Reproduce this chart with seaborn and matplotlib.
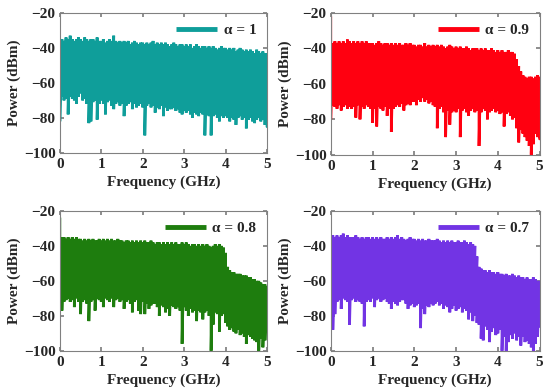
import numpy as np
import pandas as pd
import seaborn as sns
import matplotlib.pyplot as plt

# frequency grid, 0 to 5 GHz in 0.05 GHz steps
freq = np.round(np.arange(101) * 0.05, 2)

# upper and lower edge of each spectrum (dBm)
top_a1 = [-35, -35, -36, -34, -35, -33, -35, -36, -35, -34,
          -35, -36, -34, -35, -36, -35, -35, -36, -34, -36,
          -36, -35, -37, -36, -35, -36, -33, -36, -37, -36,
          -37, -36, -37, -36, -38, -37, -36, -37, -38, -37,
          -37, -38, -37, -38, -37, -36, -38, -37, -38, -37,
          -38, -37, -38, -39, -38, -37, -38, -39, -38, -38,
          -39, -38, -39, -38, -40, -39, -38, -39, -40, -39,
          -39, -40, -39, -40, -39, -40, -41, -40, -39, -40,
          -40, -41, -40, -41, -40, -42, -41, -40, -41, -42,
          -41, -42, -41, -42, -43, -41, -42, -43, -42, -43,
          -43]
bot_a1 = [-82, -68, -70, -69, -78, -68, -69, -70, -72, -68,
          -66, -70, -69, -72, -83, -82, -71, -70, -81, -72,
          -70, -72, -78, -71, -70, -73, -75, -72, -71, -73,
          -72, -79, -73, -72, -71, -75, -72, -74, -73, -72,
          -74, -90, -73, -72, -74, -73, -77, -74, -75, -73,
          -79, -74, -76, -75, -75, -74, -76, -75, -77, -78,
          -76, -77, -76, -78, -80, -77, -78, -79, -77, -78,
          -90, -78, -79, -90, -79, -78, -80, -82, -79, -80,
          -79, -80, -82, -80, -81, -84, -80, -79, -81, -80,
          -86, -81, -80, -82, -83, -81, -80, -82, -81, -84,
          -85]

top_a09 = [-22, -37, -36, -37, -36, -37, -36, -37, -35, -36,
           -37, -36, -37, -36, -37, -36, -37, -36, -37, -37,
           -37, -38, -37, -36, -37, -38, -37, -37, -38, -37,
           -38, -37, -38, -37, -38, -38, -37, -38, -37, -38,
           -38, -39, -38, -38, -39, -37, -39, -38, -39, -38,
           -39, -38, -39, -38, -39, -40, -39, -38, -39, -40,
           -39, -40, -39, -40, -40, -39, -40, -41, -40, -40,
           -40, -41, -40, -41, -40, -41, -41, -40, -41, -42,
           -41, -42, -41, -42, -42, -41, -42, -42, -43, -46,
           -50, -53, -55, -56, -57, -56, -56, -57, -56, -55,
           -56]
bot_a09 = [-80, -72, -73, -74, -72, -75, -73, -72, -74, -73,
           -74, -73, -79, -72, -80, -73, -74, -72, -73, -74,
           -82, -74, -84, -73, -74, -75, -73, -78, -74, -87,
           -74, -73, -72, -73, -71, -75, -72, -71, -72, -70,
           -70, -72, -69, -70, -68, -70, -69, -71, -70, -72,
           -73, -85, -74, -73, -76, -90, -75, -83, -76, -75,
           -76, -74, -90, -75, -74, -76, -78, -75, -74, -76,
           -75, -95, -76, -74, -75, -80, -76, -75, -74, -76,
           -75, -77, -76, -84, -77, -76, -78, -80, -79, -85,
           -93, -86, -88, -90, -92, -95, -100, -94, -88, -90,
           -91]

top_a08 = [-24, -35, -35, -36, -35, -36, -35, -36, -35, -36,
           -36, -37, -36, -37, -36, -37, -36, -37, -37, -36,
           -37, -36, -37, -36, -37, -36, -37, -37, -36, -37,
           -37, -38, -37, -37, -38, -37, -38, -37, -38, -37,
           -38, -37, -38, -38, -37, -38, -39, -38, -38, -39,
           -38, -39, -38, -39, -38, -39, -38, -39, -39, -38,
           -39, -38, -39, -40, -39, -39, -40, -39, -40, -39,
           -40, -39, -40, -41, -40, -39, -40, -39, -40, -41,
           -44, -52, -54, -55, -55, -56, -56, -56, -57, -57,
           -57, -58, -58, -59, -59, -60, -60, -61, -62, -62,
           -63]
bot_a08 = [-76, -77, -72, -71, -70, -72, -71, -75, -70, -72,
           -79, -72, -71, -73, -83, -72, -71, -77, -70, -71,
           -72, -75, -70, -71, -72, -70, -75, -71, -70, -72,
           -71, -76, -72, -71, -73, -78, -72, -71, -77, -79,
           -72, -79, -73, -76, -74, -73, -73, -75, -80, -74,
           -75, -78, -76, -80, -74, -75, -76, -75, -77, -96,
           -75, -77, -80, -76, -78, -77, -83, -77, -78, -82,
           -78, -77, -80, -100, -85, -78, -79, -89, -80, -79,
           -84, -86, -88, -87, -89, -90, -88, -91, -90, -92,
           -96, -91, -92, -93, -94, -95, -100, -93, -98, -94,
           -85]

top_a07 = [-35, -34, -35, -34, -35, -34, -33, -35, -34, -35,
           -35, -35, -34, -35, -36, -35, -36, -35, -35, -36,
           -35, -36, -35, -36, -35, -36, -36, -35, -36, -35,
           -36, -35, -34, -36, -35, -36, -37, -36, -35, -36,
           -36, -37, -36, -37, -36, -37, -37, -36, -37, -37,
           -37, -36, -37, -38, -37, -38, -37, -38, -37, -38,
           -38, -37, -38, -38, -37, -38, -39, -38, -39, -40,
           -46, -52, -53, -54, -54, -55, -54, -55, -55, -56,
           -55, -56, -56, -57, -56, -57, -57, -56, -57, -58,
           -57, -58, -58, -59, -58, -59, -59, -58, -59, -60,
           -60]
bot_a07 = [-70, -88, -79, -72, -71, -76, -70, -71, -72, -85,
           -71, -70, -72, -71, -72, -73, -86, -72, -71, -72,
           -70, -75, -71, -70, -72, -71, -70, -72, -73, -76,
           -72, -73, -74, -72, -71, -71, -73, -76, -74, -73,
           -75, -74, -73, -87, -76, -79, -74, -75, -73, -74,
           -73, -72, -74, -73, -76, -74, -75, -78, -76, -74,
           -77, -76, -75, -78, -76, -77, -82, -78, -83, -80,
           -84, -85, -93, -94, -86, -88, -95, -89, -87, -91,
           -90, -88, -100, -92, -100, -95, -91, -93, -90, -94,
           -92, -97, -92, -95, -94, -96, -98, -100, -96, -92,
           -86]

labels = ["\u03b1 = 1", "\u03b1 = 0.9", "\u03b1 = 0.8", "\u03b1 = 0.7"]
colors = ["#0f9e9a", "#ff0010", "#1e7d0e", "#7234e4"]
tops = [top_a1, top_a09, top_a08, top_a07]
bots = [bot_a1, bot_a09, bot_a08, bot_a07]

sns.set_theme(style="ticks")
plt.rcParams["font.family"] = ["Liberation Serif", "DejaVu Serif"]
plt.rcParams["font.weight"] = "bold"
plt.rcParams["axes.labelweight"] = "bold"

fig = plt.figure(figsize=(5.54, 3.92), dpi=100)
boxes = [[0.108, 0.610, 0.374, 0.357],
         [0.597, 0.605, 0.377, 0.362],
         [0.108, 0.105, 0.374, 0.357],
         [0.597, 0.105, 0.377, 0.357]]

for i in range(4):
    ax = fig.add_axes(boxes[i])
    # zigzag between upper and lower edge gives the dense spectrum look
    df = pd.DataFrame({
        "f": np.repeat(freq, 2),
        "p": np.column_stack([tops[i], bots[i]]).ravel(),
    })
    sns.lineplot(data=df, x="f", y="p", sort=False, estimator=None,
                 color=colors[i], lw=2.0, ax=ax, label=labels[i],
                 solid_joinstyle="miter")
    ax.set_xlim(0, 5)
    ax.set_ylim(-100, -20)
    ax.set_xticks([0, 1, 2, 3, 4, 5])
    ax.set_yticks([-100, -80, -60, -40, -20])
    ax.set_xlabel("Frequency (GHz)", fontsize=11, labelpad=3)
    ax.set_ylabel("Power (dBm)", fontsize=11, labelpad=2)
    ax.tick_params(direction="in", length=3, labelsize=11, top=True, right=True,
                   color="#808080", pad=3)
    ax.tick_params(axis="x", pad=4)
    for s in ax.spines.values():
        s.set_color("#808080")
        s.set_linewidth(0.8)
    leg = ax.legend(loc="upper right", frameon=False, fontsize=11,
                    handlelength=2.7, borderaxespad=0.3, handletextpad=0.4)
    for h in leg.get_lines():
        h.set_linewidth(3.5)
        h.set_solid_capstyle("butt")

fig.savefig("out.png", dpi=100)
